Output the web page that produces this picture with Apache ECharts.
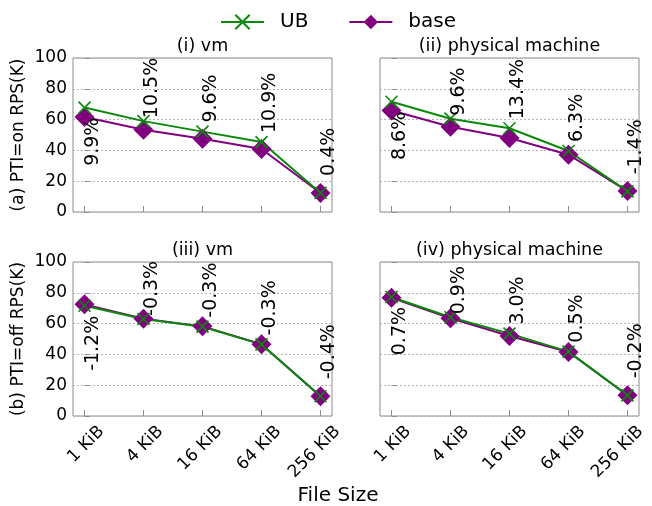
<!DOCTYPE html>
<html><head><meta charset="utf-8">
<script src="https://cdn.jsdelivr.net/npm/echarts@6/dist/echarts.min.js"></script>
<style>html,body{margin:0;padding:0;background:#fff}#c{width:652px;height:506px}</style>
</head><body><div id="c"></div>
<script>
// ---- data ----
const categories = ['1 KiB', '4 KiB', '16 KiB', '64 KiB', '256 KiB'];
const yTicks = [0, 20, 40, 60, 80, 100];
const panelTitles = ['(i) vm', '(ii) physical machine', '(iii) vm', '(iv) physical machine'];
const rowNames = ['(a) PTI=on RPS(K)', '(b) PTI=off RPS(K)'];
const xName = 'File Size';

const ubVmOn    = [67.8, 59.0, 52.2, 45.4, 12.4];
const baseVmOn  = [61.7, 53.4, 47.6, 40.9, 12.3];
const pctVmOn   = ['9.9%', '10.5%', '9.6%', '10.9%', '0.4%'];

const ubPmOn    = [71.6, 60.6, 54.4, 39.6, 13.4];
const basePmOn  = [65.9, 55.3, 48.0, 37.2, 13.6];
const pctPmOn   = ['8.6%', '9.6%', '13.4%', '6.3%', '-1.4%'];

const ubVmOff   = [71.6, 63.0, 58.0, 46.5, 12.8];
const baseVmOff = [72.5, 63.2, 58.2, 46.6, 12.85];
const pctVmOff  = ['-1.2%', '-0.3%', '-0.3%', '-0.3%', '-0.4%'];

const ubPmOff   = [77.3, 64.1, 53.5, 41.8, 13.4];
const basePmOff = [76.8, 63.5, 52.0, 41.6, 13.45];
const pctPmOff  = ['0.7%', '0.9%', '3.0%', '0.5%', '-0.2%'];

// ---- layout / style ----
const FONT = 'DejaVu Sans';
const GREEN = '#0a880a';
const PURPLE = '#800080';
const panels = [
  {ub: ubVmOn, base: baseVmOn, pct: pctVmOn},
  {ub: ubPmOn, base: basePmOn, pct: pctPmOn},
  {ub: ubVmOff, base: baseVmOff, pct: pctVmOff},
  {ub: ubPmOff, base: basePmOff, pct: pctPmOff}
];
const gridBoxes = [
  {left: 73, top: 58, width: 259, height: 154},
  {left: 380, top: 58, width: 259, height: 154},
  {left: 73, top: 262, width: 259, height: 154},
  {left: 380, top: 262, width: 259, height: 154}
];
const X_MIN = -0.195, X_MAX = 4.195;
const LABEL_DX = 17;      // horizontal shift of the rotated tick labels (px)
const labelGap = [-10, 3, 9, 9, 17];
const idx = categories.map((c, i) => i);

const grids = [], xAxes = [], yAxes = [], series = [], titles = [];
gridBoxes.forEach((g, k) => {
  grids.push(Object.assign({show: true, borderColor: '#8c8c8c', borderWidth: 1, backgroundColor: 'transparent'}, g));
  xAxes.push({
    gridIndex: k, type: 'value', min: X_MIN, max: X_MAX,
    axisLine: {show: false}, splitLine: {show: false},
    axisTick: {show: true, inside: true, length: 6, customValues: idx, lineStyle: {color: '#8c8c8c'}},
    axisLabel: {show: false}
  });
  yAxes.push({
    gridIndex: k, type: 'value', min: 0, max: 100, interval: 20,
    axisLine: {show: false},
    axisTick: {show: true, inside: true, length: 5, lineStyle: {color: '#8c8c8c'}},
    splitLine: {show: true, lineStyle: {color: '#b4b4b4', type: [2, 2], width: 1}},
    axisLabel: {show: k % 2 === 0, fontFamily: FONT, fontSize: 17, color: '#000', margin: 6},
    name: k % 2 === 0 ? rowNames[k / 2] : '', nameLocation: 'middle', nameGap: 46,
    nameTextStyle: {fontFamily: FONT, fontSize: 17, color: '#000'}
  });
  titles.push({text: panelTitles[k], left: g.left + g.width / 2 - 5, top: g.top - 26, textAlign: 'center',
    textStyle: {fontFamily: FONT, fontSize: 17.5, fontWeight: 'normal', color: '#000'}});
  const p = panels[k];
  series.push({
    name: 'base', type: 'line', xAxisIndex: k, yAxisIndex: k,
    data: p.base.map((v, i) => [i, v]),
    symbol: 'diamond', symbolSize: 20,
    lineStyle: {color: PURPLE, width: 2}, itemStyle: {color: PURPLE},
    emphasis: {disabled: true}, animation: false
  });
  series.push({
    name: 'UB', type: 'line', xAxisIndex: k, yAxisIndex: k,
    data: p.ub.map((v, i) => ({
      value: [i, v],
      label: {show: true, formatter: p.pct[i], position: 'inside', rotate: 90,
        align: i === 0 ? 'right' : 'left', verticalAlign: 'middle',
        offset: [labelGap[i], 9],
        fontFamily: FONT, fontSize: 19, color: '#000'}
    })),
    symbol: 'path://M0,0L10,10M10,0L0,10', symbolSize: 12,
    lineStyle: {color: GREEN, width: 2},
    itemStyle: {color: GREEN, borderColor: GREEN, borderWidth: 1.6},
    emphasis: {disabled: true}, animation: false
  });
});
// label-only axes for the bottom row, shifted right like the original's tick labels
[2, 3].forEach(k => {
  const g = gridBoxes[k];
  const gi = grids.length;
  grids.push({show: false, left: g.left + LABEL_DX, top: g.top, width: g.width, height: g.height});
  xAxes.push({
    gridIndex: gi, type: 'value', min: X_MIN, max: X_MAX,
    axisLine: {show: false}, axisTick: {show: false}, splitLine: {show: false},
    axisLabel: {show: true, customValues: idx, rotate: 45, margin: 13,
      formatter: v => categories[Math.round(v)], fontFamily: FONT, fontSize: 17, color: '#000'}
  });
  yAxes.push({gridIndex: gi, type: 'value', min: 0, max: 100, show: false});
});
titles.push({text: xName, left: 333, top: 481, textAlign: 'center',
  textStyle: {fontFamily: FONT, fontSize: 20, fontWeight: 'normal', color: '#000'}});

const chart = echarts.init(document.getElementById('c'), null, {renderer: 'canvas'});
chart.setOption({
  backgroundColor: '#fff',
  animation: false,
  title: titles,
  legend: {
    data: ['UB', 'base'], left: 215, top: 7, itemWidth: 43, itemHeight: 18, itemGap: 40,
    textStyle: {fontFamily: FONT, fontSize: 20, color: '#000', padding: [0, 0, 0, 11]}
  },
  grid: grids, xAxis: xAxes, yAxis: yAxes, series: series
});
</script></body></html>
